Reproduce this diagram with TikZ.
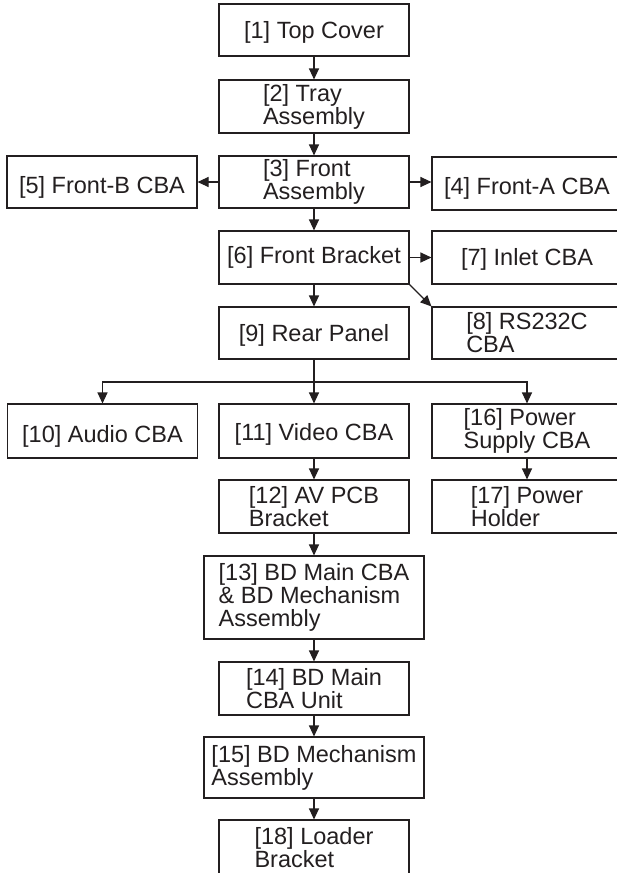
\documentclass[tikz,border=0pt]{standalone}
\usepackage{fontspec}
\setmainfont{Liberation Sans}
\usetikzlibrary{arrows.meta}
\definecolor{ink}{HTML}{231F20}
\begin{document}
\begin{tikzpicture}[x=1pt,y=-1pt,
  box/.style={draw=ink, line width=1.1pt, text=ink, inner sep=0pt, align=left,
    minimum width=190pt, minimum height=53pt,
    font=\fontsize{23.5}{23}\selectfont},
  wide/.style={box, minimum width=220pt},
  low/.style={text height=#1, text depth=5pt},
  conn/.style={draw=ink, line width=1.1pt, -{Triangle[length=11pt,width=10pt]}},
  plain/.style={draw=ink, line width=1.1pt}]
\clip (0,0) rectangle (617,873);
\fill[white] (0,0) rectangle (617,873);
\node[box, minimum height=52pt, low=21.5pt] (n1) at (314,30) {[1] Top Cover};
\node[box] (n2) at (314,106.5) {[2] Tray\\Assembly};
\node[box, minimum height=52pt] (n3) at (314,182) {[3] Front\\Assembly};
\node[box, minimum height=52pt, low=27pt] (n5) at (102,182) {[5] Front-B CBA};
\node[box, low=27pt] (n4) at (527,183.5) {[4] Front-A CBA};
\node[box, low=17.5pt] (n6) at (314,257.5) {[6] Front Bracket};
\node[box, low=20.5pt] (n7) at (527,257.5) {[7] Inlet CBA};
\node[box, minimum height=52pt, low=21.5pt] (n9) at (314,333) {[9] Rear Panel};
\node[box, minimum height=52pt] (n8) at (527,333) {[8] RS232C\\CBA};
\node[box, minimum height=54pt, low=27pt] (n10) at (102.5,431) {[10] Audio CBA};
\node[box, minimum height=54pt, low=24.5pt] (n11) at (314,431) {[11] Video CBA};
\node[box, minimum height=54pt] (n16) at (527,431) {[16] Power\\Supply CBA};
\node[box] (n12) at (314,506.5) {[12] AV PCB\\Bracket};
\node[box] (n17) at (527,506.5) {[17] Power\\Holder};
\node[wide, minimum height=83pt] (n13) at (314,597.5) {[13] BD Main CBA\\\& BD Mechanism\\Assembly};
\node[box] (n14) at (314,688.5) {[14] BD Main\\CBA Unit};
\node[wide, minimum height=61pt] (n15) at (314,767.5) {[15] BD Mechanism\\Assembly};
\node[box, minimum height=60pt, text depth=6pt] (n18) at (314,850) {[18] Loader\\Bracket};
\coordinate (bus) at (314,382);
\draw[conn] (n1) -- (n2);
\draw[conn] (n2) -- (n3);
\draw[conn] (n3) -- (n6);
\draw[conn] (n6) -- (n9);
\draw[conn] (n3.west) -- (n5.east |- n3.west);
\draw[conn] (n3.east) -- (n4.west |- n3.east);
\draw[conn] (n6.east) -- (n7.west);
\draw[conn] (n6.south east) -- (n8.north west);
\draw[plain] (n9.south) -- (bus);
\draw[conn] (bus) -| (n10.north);
\draw[conn] (bus) -- (n11.north);
\draw[conn] (bus) -| (n16.north);
\draw[conn] (n16) -- (n17);
\draw[conn] (n11) -- (n12);
\draw[conn] (n12) -- (n13);
\draw[conn] (n13) -- (n14);
\draw[conn] (n14) -- (n15);
\draw[conn] (n15) -- (n18);
\end{tikzpicture}
\end{document}
